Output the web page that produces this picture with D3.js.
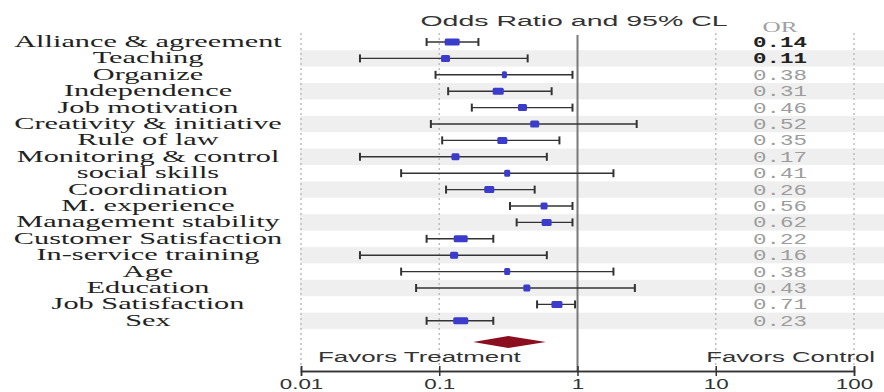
<!DOCTYPE html>
<html><head><meta charset="utf-8">
<script src="https://cdn.jsdelivr.net/npm/d3@7"></script>
<style>html,body{margin:0;padding:0;background:#fff;}svg{display:block;}</style>
</head><body>
<svg id="c" width="884" height="392"></svg>
<script>
const labels = ["Alliance & agreement","Teaching","Organize","Independence","Job motivation","Creativity & initiative","Rule of law","Monitoring & control","social skills","Coordination","M. experience","Management stability","Customer Satisfaction","In-service training","Age","Education","Job Satisfaction","Sex"];
const orText = ["0.14","0.11","0.38","0.31","0.46","0.52","0.35","0.17","0.41","0.26","0.56","0.62","0.22","0.16","0.38","0.43","0.71","0.23"];
const estimate = [0.124,0.111,0.296,0.267,0.40,0.49,0.286,0.131,0.31,0.23,0.573,0.598,0.143,0.128,0.31,0.43,0.71,0.143];
const lower = [0.081,0.0267,0.094,0.116,0.172,0.087,0.105,0.0267,0.053,0.112,0.325,0.363,0.081,0.0267,0.053,0.068,0.51,0.081];
const upper = [0.192,0.436,0.92,0.65,0.92,2.68,0.74,0.60,1.82,0.49,0.92,0.92,0.246,0.60,1.82,2.6,0.96,0.246];
const weight = [15,9,5,11,9,9,10,8,6,10,7,10,14,8,6,7,11,15];
const pooled = [0.176,0.316,0.59];
const decades = [0.01,0.1,1,10,100];
const tickLabels = ["0.01","0.1","1","10","100"];

const svg = d3.select("#c");
const x = d3.scaleLog().domain([0.01,100]).range([301,854]);
const y = d3.scaleLinear().domain([0,17]).range([42,320.8]);
const w = d3.scaleLinear().domain([0,15]).range([0,15]);
const rowH = 16.4;
const axisY = 371;

// stripes
svg.append("g").selectAll("rect").data(labels).join("rect")
  .filter((d,i)=>i%2===1)
  .attr("x",300).attr("width",584)
  .attr("y",d=>y(labels.indexOf(d))-rowH/2).attr("height",rowH)
  .attr("fill","#efefef");

// dotted grid lines
svg.append("g").selectAll("line").data([0.01,0.1,10,100]).join("line")
  .attr("x1",d=>x(d)).attr("x2",d=>x(d)).attr("y1",33).attr("y2",axisY)
  .attr("stroke","#bdbdbd").attr("stroke-width",1.5).attr("stroke-dasharray","2,3");

// reference line at 1
svg.append("line").attr("x1",x(1)).attr("x2",x(1)).attr("y1",35).attr("y2",axisY)
  .attr("stroke","#7a7a7a").attr("stroke-width",2);

// CI lines
const ci = svg.append("g").attr("stroke","#333").attr("stroke-width",1.4);
labels.forEach((l,i)=>{
  const yy = y(i);
  ci.append("line").attr("x1",x(lower[i])).attr("x2",x(upper[i])).attr("y1",yy).attr("y2",yy);
  ci.append("line").attr("x1",x(lower[i])).attr("x2",x(lower[i])).attr("y1",yy-4).attr("y2",yy+4).attr("stroke-width",2);
  ci.append("line").attr("x1",x(upper[i])).attr("x2",x(upper[i])).attr("y1",yy-4).attr("y2",yy+4).attr("stroke-width",2);
});

// point markers
svg.append("g").selectAll("rect").data(estimate).join("rect")
  .attr("x",(d,i)=>x(d)-w(weight[i])/2).attr("width",(d,i)=>w(weight[i]))
  .attr("y",(d,i)=>y(i)-3.5).attr("height",7).attr("rx",1.5)
  .attr("fill","#3b3bcc");

// pooled diamond
const dy = 342;
svg.append("path")
  .attr("d",`M${x(pooled[0])},${dy}L${x(pooled[1])},${dy-6}L${x(pooled[2])},${dy}L${x(pooled[1])},${dy+6}Z`)
  .attr("fill","#8b0e1e");

// left labels
svg.append("g").selectAll("text").data(labels).join("text")
  .attr("transform",(d,i)=>`translate(148,${y(i)+5}) scale(1.86,1)`)
  .attr("text-anchor","middle")
  .attr("font-family","Liberation Serif").attr("font-size",16.3).attr("fill","#222")
  .text(d=>d);

// title
svg.append("text").attr("transform","translate(574,26) scale(1.9,1)")
  .attr("text-anchor","middle").attr("font-family","Liberation Sans").attr("font-size",15)
  .attr("fill","#333").text("Odds Ratio and 95% CL");

// OR header and values
svg.append("text").attr("transform","translate(780,32) scale(1.8,1)")
  .attr("text-anchor","middle").attr("font-family","Liberation Serif").attr("font-size",14)
  .attr("fill","#a0a0a0").text("OR");
svg.append("g").selectAll("text").data(orText).join("text")
  .attr("transform",(d,i)=>`translate(780,${y(i)+5}) scale(1.5,1)`)
  .attr("text-anchor","middle").attr("font-family","Liberation Mono").attr("font-size",15)
  .attr("font-weight",(d,i)=>i<2?"bold":"normal")
  .attr("fill",(d,i)=>i<2?"#222":"#9c9c9c")
  .text(d=>d);

// favors labels
svg.append("text").attr("transform","translate(318,362) scale(1.85,1)")
  .attr("font-family","Liberation Sans").attr("font-size",14).attr("fill","#333").text("Favors Treatment");
svg.append("text").attr("transform","translate(875,362) scale(1.84,1)").attr("text-anchor","end")
  .attr("font-family","Liberation Sans").attr("font-size",14).attr("fill","#333").text("Favors Control");

// axis
const minor = [];
[0.01,0.1,1,10].forEach(b=>{for(let k=2;k<=9;k++) minor.push(b*k);});
const gAxis = svg.append("g").attr("transform",`translate(0,${axisY})`);
gAxis.call(d3.axisBottom(x).tickValues(minor).tickSize(4).tickFormat(""));
gAxis.call(d3.axisBottom(x).tickValues(decades).tickSize(5).tickPadding(6).tickFormat((d,i)=>tickLabels[i]));
gAxis.append("g").call(d3.axisTop(x).tickValues(decades).tickSize(5).tickFormat(""));
gAxis.selectAll(".domain").attr("stroke","#333").attr("stroke-width",1.5);
gAxis.selectAll(".tick line").attr("stroke","#333").attr("stroke-width",1.5);
gAxis.selectAll(".tick text").attr("font-family","Liberation Sans").attr("font-size",14)
  .attr("fill","#333").attr("transform","scale(1.6,1)").attr("dy","7px");
</script>
</body></html>
